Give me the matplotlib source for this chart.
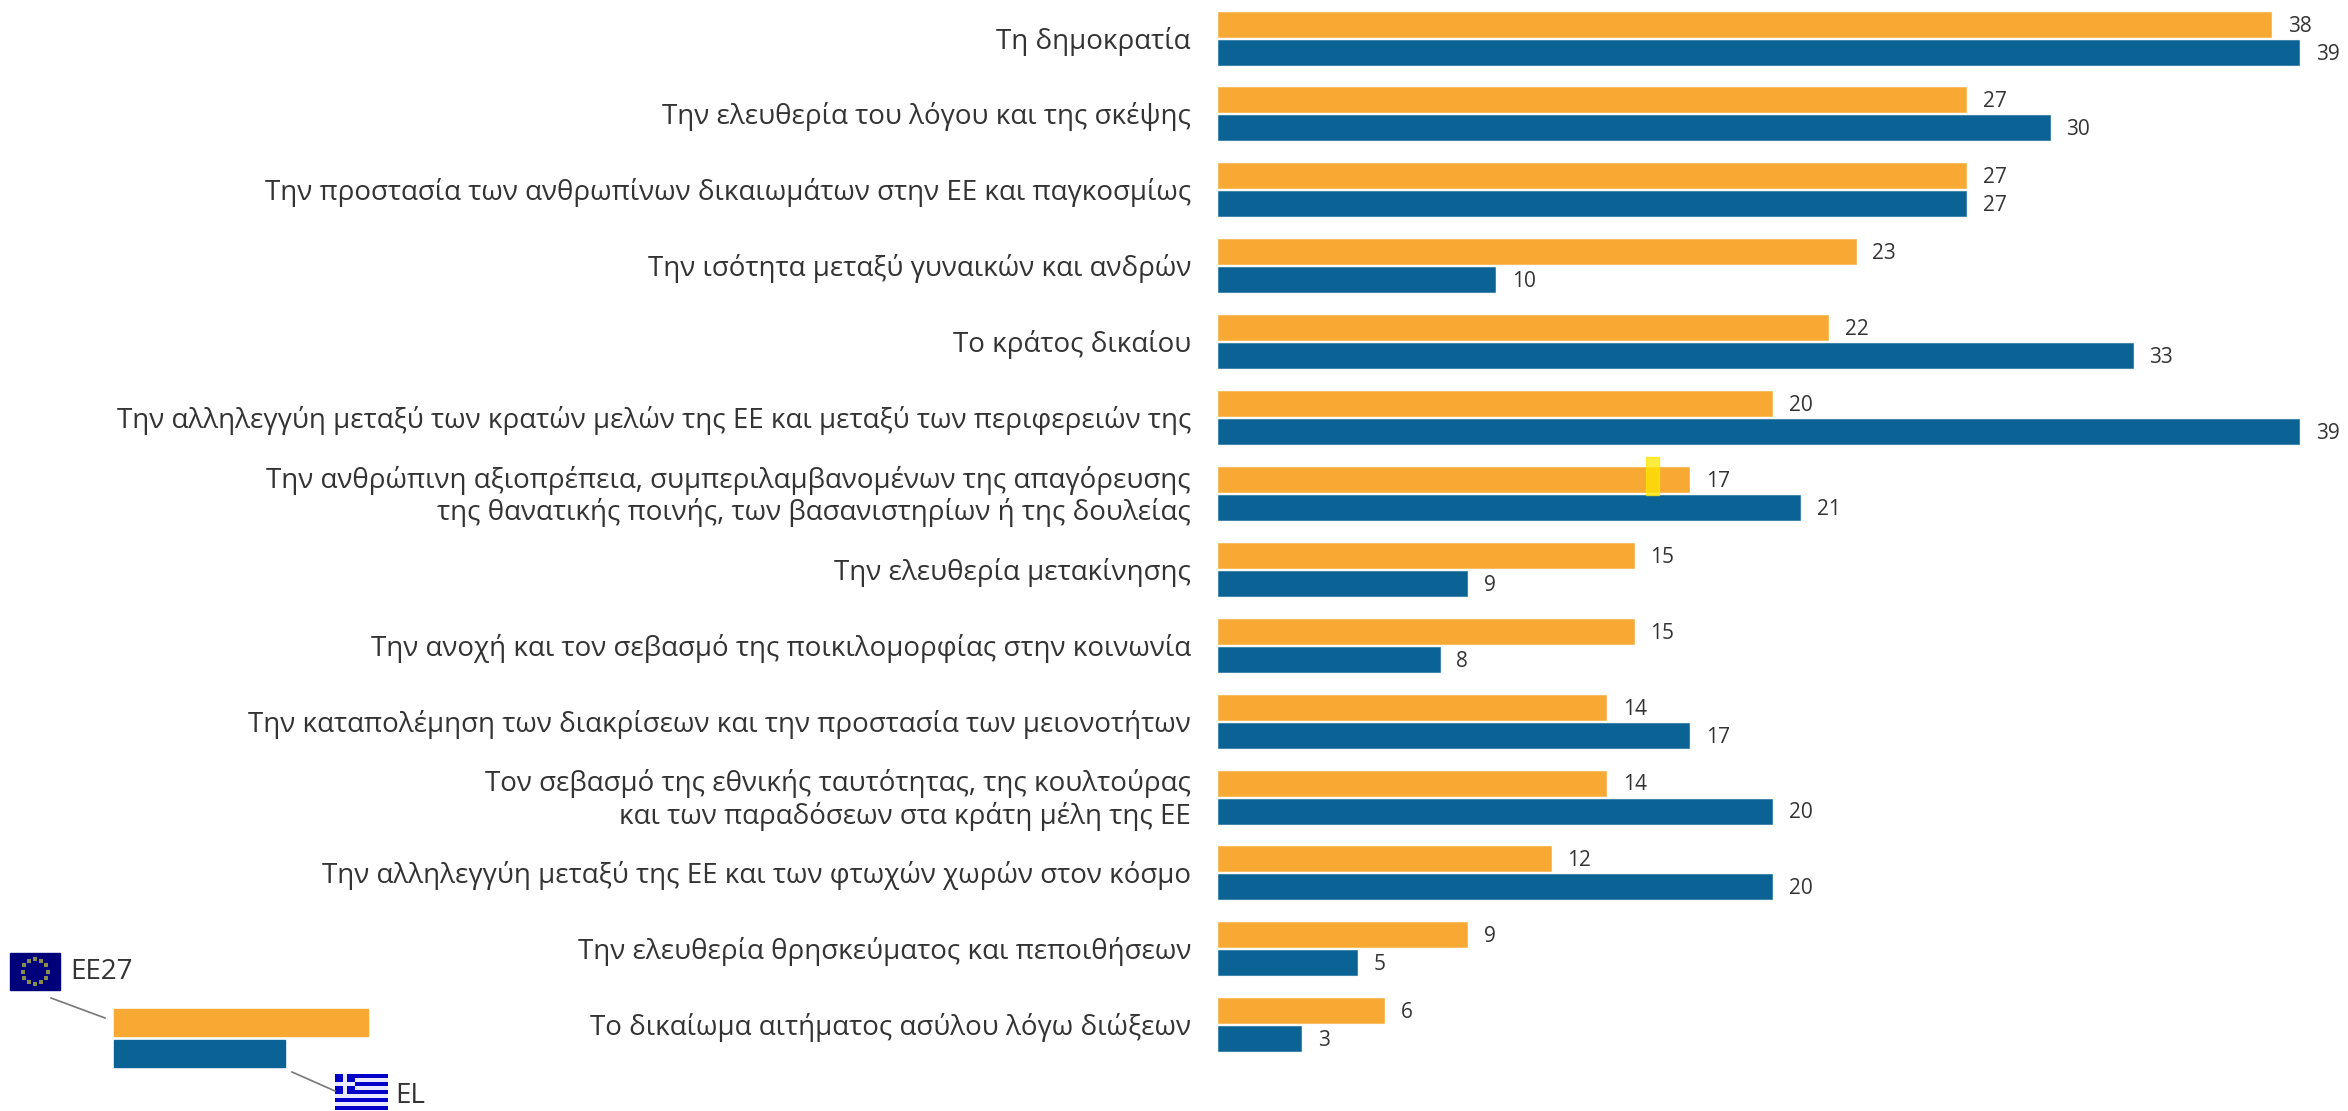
import numpy as np
import matplotlib.pyplot as plt
from matplotlib.patches import Rectangle

plt.rcParams["font.family"] = ["Open Sans", "DejaVu Sans"]

categories = [
    "Τη δημοκρατία",
    "Την ελευθερία του λόγου και της σκέψης",
    "Την προστασία των ανθρωπίνων δικαιωμάτων στην ΕΕ και παγκοσμίως",
    "Την ισότητα μεταξύ γυναικών και ανδρών",
    "Το κράτος δικαίου",
    "Την αλληλεγγύη μεταξύ των κρατών μελών της ΕΕ και μεταξύ των περιφερειών της",
    "Την ανθρώπινη αξιοπρέπεια, συμπεριλαμβανομένων της απαγόρευσης\nτης θανατικής ποινής, των βασανιστηρίων ή της δουλείας",
    "Την ελευθερία μετακίνησης",
    "Την ανοχή και τον σεβασμό της ποικιλομορφίας στην κοινωνία",
    "Την καταπολέμηση των διακρίσεων και την προστασία των μειονοτήτων",
    "Τον σεβασμό της εθνικής ταυτότητας, της κουλτούρας\nκαι των παραδόσεων στα κράτη μέλη της ΕΕ",
    "Την αλληλεγγύη μεταξύ της ΕΕ και των φτωχών χωρών στον κόσμο",
    "Την ελευθερία θρησκεύματος και πεποιθήσεων",
    "Το δικαίωμα αιτήματος ασύλου λόγω διώξεων",
]
ee27 = [38, 27, 27, 23, 22, 20, 17, 15, 15, 14, 14, 12, 9, 6]
el = [39, 30, 27, 10, 33, 39, 21, 9, 8, 17, 20, 20, 5, 3]

ORANGE = "#f7a933"
BLUE = "#0b6294"
TEXT = "#333333"
W, H = 2348, 1111
PX_PER_UNIT = 27.72
LEFT = 1218

fig = plt.figure(figsize=(W / 100, H / 100), dpi=100)

# bars: x in survey units, y in image pixels
ax = fig.add_axes([LEFT / W, 0, 1 - LEFT / W, 1])
ax.set_xlim(0, (W - LEFT) / PX_PER_UNIT)
ax.set_ylim(H, 0)
ax.axis("off")

y = 38 + 75.9 * np.arange(len(categories))
ax.barh(y - 14, ee27, height=25, color=ORANGE, edgecolor=ORANGE + "88", linewidth=0.8)
ax.barh(y + 14, el, height=25, color=BLUE, edgecolor=BLUE + "88", linewidth=0.8)

for yi, name, a, b in zip(y, categories, ee27, el):
    ax.annotate(name, (0, yi + 3), xytext=(-27 * 0.72, 0), textcoords="offset points",
                ha="right", va="center", fontsize=20, color=TEXT, linespacing=1.17,
                annotation_clip=False)
    ax.annotate(str(a), (a, yi - 12), xytext=(12, 0), textcoords="offset points",
                va="center", fontsize=15, color=TEXT)
    ax.annotate(str(b), (b, yi + 16), xytext=(12, 0), textcoords="offset points",
                va="center", fontsize=15, color=TEXT)

# stray yellow highlight on the 17 bar
ax.add_patch(Rectangle((15.45, 457), 0.47, 38, color="#ffe600", alpha=0.75, zorder=5))

# legend key, drawn in pixel coordinates
key = fig.add_axes([0, 0, 1, 1], facecolor="none")
key.set_xlim(0, W)
key.set_ylim(H, 0)
key.axis("off")
key.add_patch(Rectangle((114, 1009), 254, 27, color=ORANGE))
key.add_patch(Rectangle((114, 1040), 171, 27, color=BLUE))
key.plot([51, 105], [998, 1018], color="#777777", lw=1.2)
key.plot([292, 335], [1072, 1091], color="#777777", lw=1.2)

# EU flag
key.add_patch(Rectangle((10, 953), 50, 37, color="#00007a"))
angles = np.linspace(0, 2 * np.pi, 12, endpoint=False)
key.scatter(35 + 12.5 * np.cos(angles), 971.5 + 12.5 * np.sin(angles), s=7, color="#8a8a50",
            marker="s", linewidths=0)
key.text(70, 972, "EE27", va="center", fontsize=20, color=TEXT)

# Greek flag
for i in range(9):
    key.add_patch(Rectangle((335, 1074 + i * 4), 53, 4, color="#0000c8" if i % 2 == 0 else "#e8e8ff", lw=0))
key.add_patch(Rectangle((335, 1074), 20, 20, color="#0000c8", lw=0))
key.add_patch(Rectangle((343, 1074), 4, 20, color="#e8e8ff", lw=0))
key.add_patch(Rectangle((335, 1082), 20, 4, color="#e8e8ff", lw=0))
key.text(395, 1096, "EL", va="center", fontsize=20, color=TEXT)

fig.savefig("out.png", dpi=100)
